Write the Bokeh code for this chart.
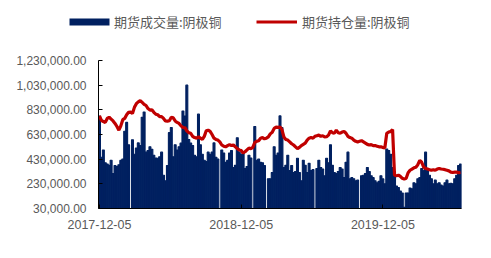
import pandas as pd
from bokeh.plotting import figure
from bokeh.layouts import column
from bokeh.models import (Range1d, FixedTicker, NumeralTickFormatter, DatetimeTickFormatter,
                          Legend, LegendItem)
from bokeh.embed import file_html
from bokeh.resources import INLINE

# ---- data (thousands of lots), one point every 5 days from 2017-12-05 ----
start_date = "2017-12-05"
step_days = 5

volume_k = [
    780, 446, 504, 400, 390, 380, 421, 313, 379, 370,
    385, 420, 430, 656, 728, 546, 20, 587, 470, 520,
    562, 540, 770, 812, 487, 500, 530, 510, 462, 440,
    437, 450, 487, 300, 255, 379, 645, 687, 450, 546,
    504, 530, 560, 820, 780, 1030, 590, 560, 540, 462,
    450, 795, 546, 470, 421, 410, 487, 470, 487, 562,
    446, 430, 20, 504, 480, 404, 420, 479, 500, 363,
    380, 604, 487, 470, 480, 354, 370, 462, 440, 20,
    695, 421, 430, 404, 400, 379, 20, 271, 271, 321,
    530, 462, 479, 781, 687, 363, 380, 462, 338, 379,
    321, 330, 437, 321, 255, 421, 380, 321, 396, 338,
    345, 20, 354, 421, 363, 350, 296, 437, 400, 546,
    380, 321, 313, 330, 363, 350, 280, 404, 487, 271,
    280, 271, 255, 260, 20, 296, 300, 313, 363, 330,
    296, 280, 255, 238, 250, 296, 270, 230, 512, 500,
    470, 363, 330, 213, 200, 171, 155, 40, 155, 155,
    196, 190, 238, 230, 271, 280, 354, 340, 487, 338,
    300, 271, 230, 260, 230, 238, 220, 213, 238, 260,
    230, 235, 230, 271, 300, 379, 390,
]

open_interest_k = [
    781, 745, 735, 728, 760, 770, 755, 740, 720, 695,
    665, 700, 750, 760, 790, 810, 812, 800, 850, 880,
    895, 905, 890, 875, 865, 840, 828, 830, 810, 795,
    790, 775, 775, 760, 740, 738, 742, 770, 765, 740,
    728, 720, 700, 687, 685, 660, 645, 640, 615, 605,
    600, 610, 600, 590, 615, 660, 665, 655, 630, 600,
    590, 585, 570, 545, 535, 530, 540, 548, 540, 545,
    530, 515, 505, 500, 480, 490, 505, 520, 515, 525,
    565, 575, 580, 600, 605, 595, 600, 610, 635, 648,
    680, 690, 688, 690, 670, 610, 590, 585, 570, 555,
    545, 530, 515, 525, 540, 550, 560, 585, 600, 605,
    600, 615, 620, 625, 615, 620, 610, 612, 625, 660,
    645, 640, 665, 645, 640, 650, 655, 640, 615, 605,
    600, 585, 575, 570, 575, 580, 570, 560, 550, 545,
    548, 540, 540, 535, 530, 530, 525, 520, 640, 650,
    655, 670, 300, 296, 300, 290, 275, 268, 275, 320,
    340, 350, 360, 365, 385, 420, 405, 365, 355, 350,
    345, 340, 345, 340, 350, 355, 350, 348, 345, 340,
    335, 325, 322, 325, 325, 320, 322,
]

tick_labels = ["2017-12-05", "2018-12-05", "2019-12-05"]
y_ticks = [30000, 230000, 430000, 630000, 830000, 1030000, 1230000]

label_volume = "期货成交量:阴极铜"
label_oi = "期货持仓量:阴极铜"

BAR_COLOR = "#002060"
LINE_COLOR = "#C00000"

# ---- build ----
volume = [v * 1000 for v in volume_k]
open_interest = [v * 1000 for v in open_interest_k]
dates = pd.date_range(start_date, periods=len(volume), freq=f"{step_days}D")
day_ms = 24 * 3600 * 1000
bar_w = step_days * day_ms

x0 = dates[0] - pd.Timedelta(days=step_days / 2)
x1 = dates[-1] + pd.Timedelta(days=step_days / 2)

p = figure(width=491, height=218, x_axis_type="datetime",
           x_range=Range1d(x0, x1), y_range=Range1d(30000, 1230000),
           output_backend="svg", toolbar_location=None,
           min_border_left=98, min_border_right=30, min_border_top=20, min_border_bottom=50)
p.outline_line_color = None
p.xgrid.visible = False
p.ygrid.visible = False
p.background_fill_color = "white"
p.border_fill_color = "white"

bars = p.vbar(x=dates, top=volume, bottom=0, width=bar_w,
              fill_color=BAR_COLOR, line_color=BAR_COLOR, line_width=1.1)
line = p.line(x=dates, y=open_interest, line_color=LINE_COLOR, line_width=3.2)

# axes
ya = p.yaxis[0]
ya.ticker = FixedTicker(ticks=y_ticks)
ya.formatter = NumeralTickFormatter(format="0,0.00")
ya.axis_line_color = "black"
ya.major_tick_line_color = "black"
ya.major_tick_in = 4
ya.major_tick_out = 0
ya.minor_tick_line_color = None
ya.major_label_standoff = 12
ya.major_label_text_font = "Liberation Sans"
ya.major_label_text_font_size = "12px"
ya.major_label_text_color = "#595959"

xa = p.xaxis[0]
xa.ticker = FixedTicker(ticks=[pd.Timestamp(t).value // 10**6 for t in tick_labels])
xa.formatter = DatetimeTickFormatter(days="%Y-%m-%d", months="%Y-%m-%d", years="%Y-%m-%d",
                                     hours="%Y-%m-%d", minutes="%Y-%m-%d")
xa.axis_line_color = "black"
xa.major_tick_line_color = "black"
xa.major_tick_in = 4
xa.major_tick_out = 0
xa.minor_tick_line_color = None
xa.major_label_standoff = 11
xa.major_label_text_font = "Liberation Sans"
xa.major_label_text_font_size = "12.5px"
xa.major_label_text_color = "#595959"

# ---- legend strip on top (same series, drawn off-range so only the legend shows) ----
pl = figure(width=491, height=40, x_range=Range1d(0, 1), y_range=Range1d(0, 1),
            x_axis_location=None, y_axis_location=None,
            output_backend="svg", toolbar_location=None,
            min_border=0, min_border_left=0, min_border_right=0,
            min_border_top=0, min_border_bottom=0)
pl.grid.visible = False
pl.outline_line_color = None
lbar = pl.vbar(x=dates, top=volume, bottom=0, width=bar_w,
               fill_color=BAR_COLOR, line_color=None)
lline = pl.line(x=dates, y=open_interest, line_color=LINE_COLOR, line_width=3)

# do not align the legend strip's frame with the chart's frame
for fig in (pl, p):
    try:
        fig.frame_align = False
    except Exception:
        pass

def make_legend(label, r, loc, gw, gh, standoff):
    return Legend(items=[LegendItem(label=label, renderers=[r])], location=loc,
                  orientation="horizontal", glyph_width=gw, glyph_height=gh,
                  label_standoff=standoff, label_height=14, padding=0, margin=0,
                  spacing=0, border_line_color=None, background_fill_alpha=0,
                  label_text_font="Noto Sans CJK SC", label_text_font_size="13px",
                  label_text_color="#595959")

pl.add_layout(make_legend(label_volume, lbar, (64, 9), 50, 9, 0))
pl.add_layout(make_legend(label_oi, lline, (256, 9), 41, 9, 5))

open("out.html", "w").write(file_html(column(pl, p, spacing=0), INLINE))
